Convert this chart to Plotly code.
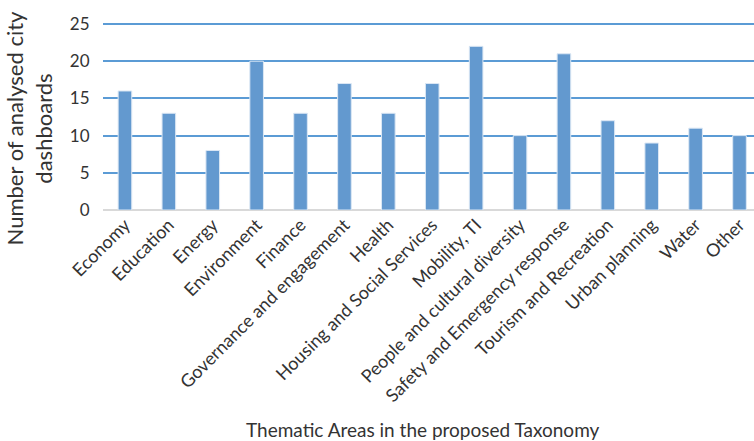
import plotly.graph_objects as go

categories = ["Economy", "Education", "Energy", "Environment", "Finance",
              "Governance and engagement", "Health", "Housing and Social Services",
              "Mobility, TI", "People and cultural diversity",
              "Safety and Emergency response", "Tourism and Recreation",
              "Urban planning", "Water", "Other"]
counts = [16, 13, 8, 20, 13, 17, 13, 17, 22, 10, 21, 12, 9, 11, 10]
y_ticks = [0, 5, 10, 15, 20, 25]

FONT = "Lato"
TXT = "#333333"

fig = go.Figure(go.Bar(
    x=categories, y=counts,
    marker=dict(color="#6399cf", line=dict(color="#dbe7f4", width=1)),
    width=0.31,
))

# plot area: top 22 px, bottom 210 px (188 px tall)
fig.update_layout(
    width=754, height=441,
    margin=dict(l=103, r=0, t=22, b=231),
    plot_bgcolor="white", paper_bgcolor="white",
    showlegend=False,
    xaxis=dict(
        range=[-0.5, 14.33], tickangle=-45, showgrid=False,
        tickfont=dict(family=FONT, size=18, color=TXT),
        ticks="", showline=False,
    ),
    yaxis=dict(
        range=[0, 25.27], tickvals=y_ticks, showgrid=True,
        gridcolor="#5b9bd5", gridwidth=1.5,
        zeroline=True, zerolinecolor="#d9d9d9", zerolinewidth=2,
        tickfont=dict(family=FONT, size=17, color=TXT),
        ticks="outside", ticklen=9, tickcolor="rgba(0,0,0,0)",
    ),
    annotations=[
        dict(text="Number of analysed city<br>dashboards",
             xref="paper", yref="paper", x=-0.113, y=(210 - 128) / 188,
             xanchor="center", yanchor="middle", textangle=-90,
             showarrow=False, font=dict(family=FONT, size=22, color=TXT)),
        dict(text="Thematic Areas in the proposed Taxonomy",
             xref="paper", yref="paper", x=(423 - 103) / 651, y=(210 - 429) / 188,
             xanchor="center", yanchor="middle",
             showarrow=False, font=dict(family=FONT, size=19, color=TXT)),
    ],
)

fig.write_html("out.html")
